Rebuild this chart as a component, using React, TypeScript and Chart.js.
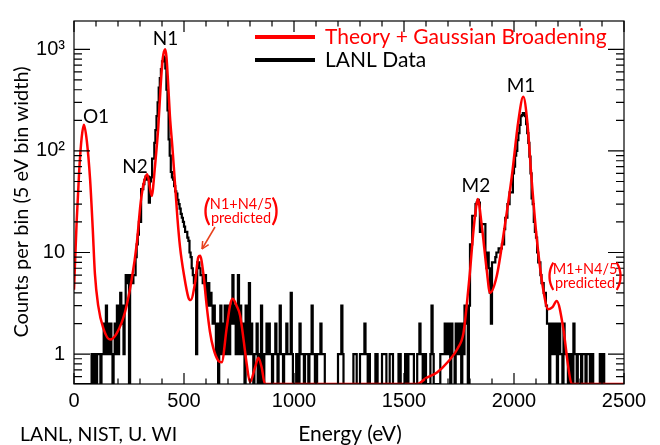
import React, { useEffect, useRef } from "react";
import { Chart, registerables } from "chart.js";

Chart.register(...registerables);

// ---------------- axis ranges and ticks ----------------
const energyMin = 0;
const energyMax = 2500;
const binWidth = 5;
const countsMin = 0.508;
const countsMax = 1900;

const xTickValues = [0, 500, 1000, 1500, 2000, 2500];
const xTickLabels = ["0", "500", "1000", "1500", "2000", "2500"];
const yTickValues = [1, 10, 100, 1000];
const yTickLabels = ["1", "10", "10²", "10³"];

// ---------------- LANL data: counts per 5 eV bin ----------------
const counts0to495 = [
  0, 0, 0, 0, 0, 0, 0, 0, 0, 0, 0, 0, 0, 0, 0, 0, 1, 0, 1, 0,
  0, 1, 1, 1, 0, 1, 1, 2, 1, 3, 1, 2, 1, 2, 1, 0, 1, 2, 1, 3,
  1, 2, 4, 2, 3, 1, 3, 6, 6, 5, 0, 6, 6, 5, 6, 6, 9, 12, 15, 20,
  20, 42, 42, 47, 52, 56, 52, 56, 31, 50, 55, 84, 84, 120, 160, 220, 300, 420, 520, 640,
  760, 850, 820, 650, 400, 250, 130, 90, 62, 55, 52, 45, 40, 38, 33, 30, 27, 24, 22, 20,
];
const counts500to995 = [
  18, 16, 16, 14, 13, 10, 9, 7, 6, 5, 5, 1, 8, 8, 7, 6, 6, 5, 6, 6,
  4, 3, 5, 3, 4, 3, 2, 3, 2, 1, 2, 0, 2, 3, 1, 2, 1, 3, 2, 1,
  3, 1, 2, 3, 6, 2, 3, 1, 2, 6, 1, 3, 2, 1, 2, 0, 3, 1, 2, 5,
  1, 2, 1, 0, 1, 1, 2, 0, 1, 0, 3, 1, 0, 1, 1, 2, 1, 2, 1, 1,
  0, 1, 1, 2, 1, 0, 1, 3, 1, 1, 0, 1, 1, 2, 1, 1, 1, 4, 1, 0,
];
const counts1000to1495 = [
  0, 0, 1, 1, 0, 2, 1, 1, 1, 0, 1, 1, 1, 0, 1, 1, 3, 1, 1, 0,
  0, 1, 1, 1, 2, 1, 1, 1, 0, 0, 0, 0, 0, 0, 0, 0, 0, 0, 0, 0,
  1, 1, 1, 3, 1, 0, 0, 0, 0, 0, 0, 0, 0, 0, 1, 1, 1, 0, 0, 0,
  1, 1, 1, 1, 2, 1, 1, 0, 1, 0, 0, 0, 0, 0, 1, 1, 0, 0, 0, 0,
  1, 1, 1, 1, 0, 0, 0, 1, 1, 1, 0, 0, 0, 0, 0, 1, 1, 0, 0, 0,
];
const counts1500to1995 = [
  0, 1, 1, 0, 1, 1, 1, 1, 1, 0, 0, 0, 1, 1, 2, 1, 1, 0, 1, 1,
  0, 0, 0, 0, 1, 3, 1, 0, 0, 0, 0, 0, 0, 1, 1, 1, 1, 2, 1, 1,
  2, 1, 0, 2, 1, 1, 0, 2, 1, 2, 1, 2, 0, 2, 1, 3, 2, 3, 0, 3,
  12, 12, 23, 23, 23, 30, 31, 33, 31, 16, 19, 19, 19, 19, 10, 7, 10, 7, 4, 2,
  8, 8, 8, 9, 10, 10, 11, 11, 11, 12, 12, 17, 22, 22, 30, 30, 39, 39, 39, 60,
];
const counts2000to2495 = [
  70, 90, 100, 128, 150, 180, 220, 225, 236, 236, 220, 183, 150, 120, 88, 60, 34, 30, 20, 16,
  14, 10, 8, 8, 6, 5, 5, 4, 4, 3, 2, 2, 0, 2, 1, 2, 1, 1, 2, 0,
  1, 2, 1, 1, 0, 2, 1, 1, 1, 0, 1, 1, 0, 0, 2, 1, 1, 0, 1, 1,
  1, 0, 1, 1, 1, 0, 1, 1, 1, 0, 1, 1, 0, 0, 0, 0, 0, 0, 1, 0,
  1, 1, 0, 0, 0, 0, 0, 0, 0, 0, 0, 0, 0, 0, 0, 0, 0, 0, 0, 0,
];

// ---------------- theory + Gaussian broadening: [energy eV, counts] ----------------
const theoryPoints: [number, number][] = [
  [0, 4.3], [12, 20], [24, 66], [35, 136], [45, 181], [58, 127], [73, 53], [85, 17.5],
  [95, 6.2], [110, 3.0], [133, 1.8], [164, 1.39], [194, 1.6], [232, 2.6], [262, 5.4],
  [285, 12], [303, 31], [318, 49], [333, 59], [353, 36], [368, 70], [376, 110], [383, 170],
  [394, 440], [403, 800], [414, 1000], [420, 850], [427, 500], [436, 220], [447, 110],
  [459, 48], [470, 22], [482, 11.3], [500, 6], [520, 3.6], [530, 3.4], [550, 5], [565, 9],
  [573, 9.3], [588, 6.2], [603, 3.0], [618, 1.66], [633, 1.15], [656, 0.86], [671, 0.83],
  [694, 1.8], [709, 3.0], [721, 3.5], [739, 3.0], [755, 2.4], [770, 1.43], [785, 0.8],
  [800, 0.53], [823, 0.74], [838, 0.92], [853, 0.74], [868, 0], [1560, 0], [1600, 0.58],
  [1650, 0.66], [1700, 0.84], [1745, 1.15], [1770, 1.6], [1785, 3.0], [1800, 6.5],
  [1814, 15], [1825, 25], [1835, 33.7], [1853, 18.8], [1876, 6.7], [1891, 4.0], [1921, 5.8],
  [1959, 18.8], [1990, 56], [2020, 198], [2042, 341], [2060, 198], [2080, 52.7],
  [2103, 14], [2133, 4.3], [2156, 2.77], [2175, 2.9], [2194, 3.33], [2224, 1.79],
  [2247, 0.74], [2262, 0], [2500, 0],
];

// ---------------- peak labels ----------------
const peakNames = ["O1", "N2", "N1", "M2", "M1"];
const peakLabelEnergy = [100, 277, 416, 1827, 2032];
const peakLabelCounts = [214, 70, 1260, 45, 436];

const theoryLabel = "Theory + Gaussian Broadening";
const dataLabel = "LANL Data";
const xTitle = "Energy (eV)";
const yTitle = "Counts per bin (5 eV bin width)";
const creditText = "LANL, NIST, U. WI";

const allCounts = [
  ...counts0to495,
  ...counts500to995,
  ...counts1000to1495,
  ...counts1500to1995,
  ...counts2000to2495,
];

const textFamily = 'Lato, "Open Sans", sans-serif';
const tickFamily = '"Liberation Sans", Arial, sans-serif';
const RED = "#ff0000";

const framePlugin = {
  id: "rootFrame",
  afterDatasetsDraw(chart: any) {
    const { ctx, chartArea } = chart;
    const { left, right, top, bottom } = chartArea;
    const xs = chart.scales.x;
    const ys = chart.scales.y;
    ctx.save();
    ctx.strokeStyle = "#000";
    ctx.lineWidth = 1.2;
    ctx.strokeRect(left, top, right - left, bottom - top);
    ctx.beginPath();
    for (let e = energyMin; e <= energyMax; e += 100) {
      const px = xs.getPixelForValue(e);
      const len = e % 500 === 0 ? 11 : 5.5;
      ctx.moveTo(px, bottom);
      ctx.lineTo(px, bottom - len);
      ctx.moveTo(px, top);
      ctx.lineTo(px, top + len);
    }
    for (let d = -1; d <= 3; d++) {
      for (let m = 1; m <= 9; m++) {
        const v = m * Math.pow(10, d);
        if (v < countsMin || v > countsMax) continue;
        const py = ys.getPixelForValue(v);
        const len = m === 1 ? 16 : 8;
        ctx.moveTo(left, py);
        ctx.lineTo(left + len, py);
        ctx.moveTo(right, py);
        ctx.lineTo(right - len, py);
      }
    }
    ctx.stroke();
    ctx.restore();
  },
};

const textPlugin = {
  id: "texts",
  afterDraw(chart: any) {
    const { ctx } = chart;
    const xs = chart.scales.x;
    const ys = chart.scales.y;
    ctx.save();
    // peak labels
    ctx.fillStyle = "#000";
    ctx.font = `19px ${textFamily}`;
    ctx.textAlign = "center";
    ctx.textBaseline = "middle";
    peakNames.forEach((n, i) => {
      ctx.fillText(n, xs.getPixelForValue(peakLabelEnergy[i]), ys.getPixelForValue(peakLabelCounts[i]));
    });

    // legend
    ctx.lineWidth = 4;
    ctx.strokeStyle = RED;
    ctx.beginPath();
    ctx.moveTo(255, 37);
    ctx.lineTo(315, 37);
    ctx.stroke();
    ctx.strokeStyle = "#000";
    ctx.beginPath();
    ctx.moveTo(255, 60);
    ctx.lineTo(315, 60);
    ctx.stroke();
    ctx.textAlign = "left";
    ctx.font = `21px ${textFamily}`;
    ctx.fillStyle = RED;
    ctx.fillText(theoryLabel, 325, 37);
    ctx.fillStyle = "#000";
    ctx.fillText(dataLabel, 325, 60);

    // predicted notes
    const note = (cx: number, cy: number, head: string) => {
      ctx.fillStyle = RED;
      ctx.textAlign = "center";
      ctx.font = `14.5px ${textFamily}`;
      ctx.fillText(head, cx, cy - 7);
      ctx.fillText("predicted", cx, cy + 7.5);
      ctx.font = `30px ${textFamily}`;
      ctx.fillText("(", cx - 34, cy);
      ctx.fillText(")", cx + 34, cy);
    };
    note(241, 211, "N1+N4/5");
    note(585, 276, "M1+N4/5");

    // arrow
    ctx.strokeStyle = "#e8401c";
    ctx.fillStyle = "#e8401c";
    ctx.lineWidth = 1.5;
    const ax0 = 215, ay0 = 227, ax1 = 202, ay1 = 249;
    ctx.beginPath();
    ctx.moveTo(ax0, ay0);
    ctx.lineTo(ax1, ay1);
    ctx.stroke();
    const ang = Math.atan2(ay1 - ay0, ax1 - ax0);
    ctx.beginPath();
    ctx.moveTo(ax1, ay1);
    ctx.lineTo(ax1 - 8 * Math.cos(ang - 0.45), ay1 - 8 * Math.sin(ang - 0.45));
    ctx.moveTo(ax1, ay1);
    ctx.lineTo(ax1 - 8 * Math.cos(ang + 0.45), ay1 - 8 * Math.sin(ang + 0.45));
    ctx.stroke();

    // axis titles & credit
    ctx.fillStyle = "#000";
    ctx.font = `21px ${textFamily}`;
    ctx.textAlign = "center";
    ctx.fillText(xTitle, 350, 434);
    ctx.textAlign = "left";
    ctx.font = `19.5px ${textFamily}`;
    ctx.fillText(creditText, 20, 435);
    ctx.save();
    ctx.translate(22, 202);
    ctx.rotate(-Math.PI / 2);
    ctx.textAlign = "center";
    ctx.font = `20px ${textFamily}`;
    ctx.fillText(yTitle, 0, 0);
    ctx.restore();
    ctx.restore();
  },
};

export default function App() {
  const ref = useRef<HTMLCanvasElement>(null);
  useEffect(() => {
    document.body.style.margin = "0";
    const canvas = ref.current;
    if (!canvas) return;
    const dataPoints = allCounts.map((c, i) => ({ x: energyMin + i * binWidth, y: c > 0 ? c : countsMin }));
    dataPoints.push({ x: energyMax, y: dataPoints[dataPoints.length - 1].y });
    const theory = theoryPoints.map(([e, c]) => ({ x: e, y: c > 0 ? c : countsMin }));

    const chart = new Chart(canvas, {
      type: "line",
      data: {
        datasets: [
          {
            label: theoryLabel,
            data: theory,
            borderColor: RED,
            borderWidth: 2.5,
            pointRadius: 0,
            cubicInterpolationMode: "monotone",
            fill: false,
            order: 0,
          },
          {
            label: dataLabel,
            data: dataPoints,
            borderColor: "#000",
            borderWidth: 2.2,
            pointRadius: 0,
            stepped: true,
            fill: false,
            order: 1,
          },
        ],
      },
      options: {
        animation: false,
        responsive: false,
        events: [],
        layout: { padding: { top: 11, right: 36, left: 0, bottom: 0 } },
        plugins: { legend: { display: false }, tooltip: { enabled: false }, title: { display: false } },
        scales: {
          x: {
            type: "linear",
            min: energyMin,
            max: energyMax,
            afterFit: (s: any) => {
              s.height = 61;
            },
            afterBuildTicks: (s: any) => {
              s.ticks = xTickValues.map((v) => ({ value: v }));
            },
            ticks: {
              color: "#000",
              font: { family: tickFamily, size: 20 },
              padding: 5,
              maxRotation: 0,
              autoSkip: false,
              callback: (v: any) => {
                const i = xTickValues.indexOf(Number(v));
                return i >= 0 ? xTickLabels[i] : "";
              },
            },
            grid: { display: false, drawTicks: false },
            border: { display: false },
          },
          y: {
            type: "logarithmic",
            min: countsMin,
            max: countsMax,
            afterFit: (s: any) => {
              s.width = 74;
            },
            afterBuildTicks: (s: any) => {
              s.ticks = yTickValues.map((v) => ({ value: v }));
            },
            ticks: {
              color: "#000",
              font: { family: tickFamily, size: 20 },
              padding: 9,
              autoSkip: false,
              callback: (v: any) => {
                const i = yTickValues.indexOf(Number(v));
                return i >= 0 ? yTickLabels[i] : "";
              },
            },
            grid: { display: false, drawTicks: false },
            border: { display: false },
          },
        },
      },
      plugins: [framePlugin, textPlugin],
    } as any);
    return () => chart.destroy();
  }, []);
  return <canvas ref={ref} width={660} height={445} style={{ display: "block" }} />;
}
